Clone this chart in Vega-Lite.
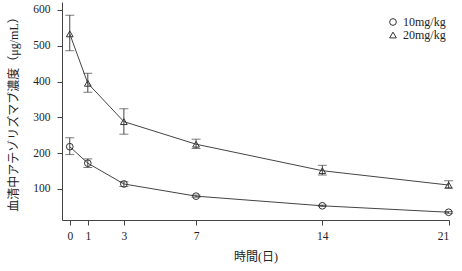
{
  "$schema": "https://vega.github.io/schema/vega-lite/v6.json",
  "autosize": {"type": "none"},
  "width": 387,
  "height": 218,
  "padding": {"left": 62, "top": 2, "right": 13, "bottom": 51},
  "background": "white",
  "config": {
    "view": {"stroke": null},
    "font": "Liberation Serif, Noto Sans CJK JP",
    "axis": {
      "grid": false,
      "domainColor": "#444",
      "tickColor": "#444",
      "tickSize": 5,
      "labelColor": "#222",
      "titleColor": "#222",
      "labelFont": "Liberation Serif, Noto Sans CJK JP",
      "titleFont": "Liberation Serif, Noto Sans CJK JP",
      "labelFontSize": 11.5,
      "titleFontSize": 12,
      "titleFontWeight": "normal"
    }
  },
  "data": {
    "values": [
      {"dose": "10mg/kg", "day": 0, "mean": 218, "lo": 196, "hi": 243},
      {"dose": "10mg/kg", "day": 1, "mean": 172, "lo": 160, "hi": 184},
      {"dose": "10mg/kg", "day": 3, "mean": 114, "lo": 107, "hi": 120},
      {"dose": "10mg/kg", "day": 7, "mean": 80, "lo": 77, "hi": 83},
      {"dose": "10mg/kg", "day": 14, "mean": 53, "lo": 51, "hi": 55},
      {"dose": "10mg/kg", "day": 21, "mean": 35, "lo": 32, "hi": 37},
      {"dose": "20mg/kg", "day": 0, "mean": 533, "lo": 486, "hi": 585},
      {"dose": "20mg/kg", "day": 1, "mean": 395, "lo": 370, "hi": 423},
      {"dose": "20mg/kg", "day": 3, "mean": 288, "lo": 253, "hi": 324},
      {"dose": "20mg/kg", "day": 7, "mean": 225, "lo": 213, "hi": 239},
      {"dose": "20mg/kg", "day": 14, "mean": 151, "lo": 139, "hi": 166},
      {"dose": "20mg/kg", "day": 21, "mean": 111, "lo": 102, "hi": 123}
    ]
  },
  "encoding": {
    "x": {
      "field": "day", "type": "quantitative",
      "scale": {"domain": [-0.43, 21.02], "nice": false, "zero": false},
      "axis": {"values": [0, 1, 3, 7, 14, 21], "title": "時間(日)", "labelPadding": 5, "titlePadding": 10}
    }
  },
  "layer": [
    {
      "mark": {"type": "line", "interpolate": "linear", "color": "#444", "strokeWidth": 1},
      "encoding": {
        "y": {
          "field": "mean", "type": "quantitative",
          "scale": {"domain": [13.4, 622], "nice": false, "zero": false},
          "axis": {"values": [100, 200, 300, 400, 500, 600], "title": "血清中アテゾリズマブ濃度（μg/mL）", "labelPadding": 7, "titlePadding": 12}
        },
        "detail": {"field": "dose"}
      }
    },
    {
      "mark": {"type": "rule", "color": "#444", "strokeWidth": 1},
      "encoding": {
        "y": {"field": "lo", "type": "quantitative"},
        "y2": {"field": "hi"}
      }
    },
    {
      "mark": {"type": "tick", "orient": "horizontal", "color": "#444", "size": 9, "thickness": 1},
      "encoding": {"y": {"field": "lo", "type": "quantitative"}}
    },
    {
      "mark": {"type": "tick", "orient": "horizontal", "color": "#444", "size": 9, "thickness": 1},
      "encoding": {"y": {"field": "hi", "type": "quantitative"}}
    },
    {
      "mark": {"type": "point", "filled": false, "color": "#333", "strokeWidth": 1, "size": 45, "opacity": 1},
      "encoding": {
        "y": {"field": "mean", "type": "quantitative"},
        "shape": {
          "field": "dose", "type": "nominal",
          "scale": {"domain": ["10mg/kg", "20mg/kg"], "range": ["circle", "triangle-up"]},
          "legend": {
            "title": null,
            "orient": "none",
            "legendX": 325,
            "legendY": 14,
            "labelFontSize": 12,
            "labelColor": "#222",
            "symbolSize": 45,
            "symbolStrokeColor": "#333",
            "symbolStrokeWidth": 1,
            "symbolFillColor": "transparent",
            "rowPadding": 1,
            "labelOffset": 4,
            "labelLimit": 80
          }
        }
      }
    }
  ]
}
